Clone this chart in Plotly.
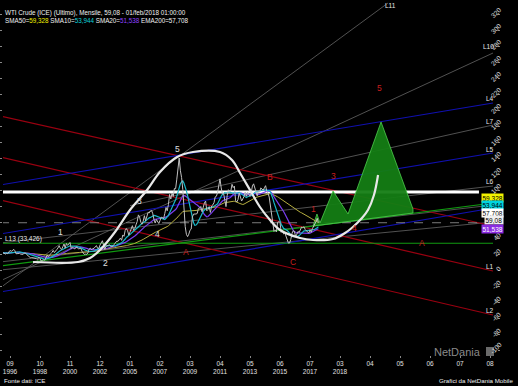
import plotly.graph_objects as go
import pandas as pd

W, H = 518, 386
ML, MR, MT, MB = 3, 21, 0, 31

# ---------------- data ----------------
START_MONTH = "1996-03"
BASE_MONTH = "1996-09"          # first x-axis label
closes = [
    21.5, 21.2, 19.8, 20.9, 20.4, 22.3, 24.4, 23.4, 23.8, 25.9,
    24.2, 20.3, 20.4, 19.9, 20.8, 19.8, 20.1, 19.6, 21.2, 21.1, 19.2, 17.6,
    17.2, 15.4, 15.6, 15.4, 15.2, 14.2, 14.2, 13.4, 16.1, 14.4, 11.2, 12.1,
    12.8, 12.3, 16.8, 18.7, 16.8, 19.3, 20.5, 22.1, 24.5, 21.8, 24.6, 25.6,
    27.6, 30.4, 26.9, 25.7, 29.0, 32.5, 27.4, 33.1, 30.8, 32.7, 34.4, 26.8,
    28.7, 27.4, 26.3, 28.5, 28.4, 26.3, 26.4, 27.2, 23.4, 21.2, 19.4, 19.8,
    19.5, 21.7, 26.3, 27.3, 25.3, 26.9, 27.0, 28.9, 30.5, 27.2, 26.9, 31.2,
    33.5, 36.6, 31.0, 25.8, 29.6, 30.2, 30.5, 31.6, 29.2, 29.1, 30.4, 32.5,
    33.1, 36.2, 35.8, 37.4, 39.9, 37.1, 43.8, 42.1, 49.6, 51.8, 49.1, 43.5,
    48.2, 52.0, 55.4, 49.7, 52.0, 56.5, 60.6, 68.9, 66.2, 59.8, 57.3, 61.0,
    67.9, 61.4, 66.6, 71.9, 71.3, 73.9, 74.4, 70.3, 62.9, 58.7, 63.1, 61.1,
    58.1, 61.8, 65.9, 65.7, 64.0, 70.7, 78.2, 74.0, 81.7, 94.5, 88.7, 96.0,
    91.8, 101.8, 101.6, 113.5, 127.4, 140.0, 124.1, 115.5, 100.6, 67.8, 54.4, 44.6,
    41.7, 44.8, 49.7, 51.1, 66.3, 69.9, 69.5, 70.0, 70.6, 77.0, 77.3, 79.4,
    72.9, 79.7, 83.8, 86.2, 74.0, 75.6, 79.0, 71.9, 80.0, 81.4, 84.1, 91.4,
    92.2, 97.0, 106.7, 113.9, 102.7, 95.4, 95.7, 88.8, 79.2, 93.2, 100.4, 98.8,
    98.5, 107.1, 103.0, 104.9, 86.5, 85.0, 88.1, 96.5, 92.2, 86.2, 88.9, 91.8,
    97.5, 92.1, 97.2, 93.5, 92.0, 96.6, 105.0, 107.7, 102.3, 96.4, 92.7, 98.4,
    97.5, 102.6, 101.6, 99.7, 102.7, 105.4, 98.2, 96.0, 91.2, 80.5, 66.2, 53.3,
    48.2, 49.8, 47.6, 59.6, 60.3, 59.5, 47.1, 49.2, 45.1, 46.6, 41.7, 37.0,
    33.6, 33.75, 38.3, 45.9, 49.1, 48.3, 41.6, 44.7, 48.2, 46.9, 49.4, 53.7,
    52.8, 54.0, 50.6, 49.3, 48.3, 46.0, 50.2, 47.2, 51.7, 54.4, 57.4, 60.4,
    64.7, 59.08,
]

x_tick_vals = [0, 25, 50, 75, 100, 125, 150, 175, 200, 225, 250, 275, 300, 325, 350, 375, 400]
x_tick_text = ["09<br>1996", "10<br>1998", "11<br>2000", "12<br>2002", "01<br>2005",
               "02<br>2007", "03<br>2009", "04<br>2011", "05<br>2013", "06<br>2015",
               "07<br>2017", "03<br>2018", "04", "05", "06", "07", "08"]
y_tick_vals = list(range(-100, 321, 20))

# drawn trend lines: (x0, v0, x1, v1) in month-index / price units
red_lines = [(-8.3, 192.5, 402.5, 55.0), (-8.3, 141.25, 402.5, -1.25), (-8.3, 87.5, 402.5, -56.25)]
blue_lines = [(-8.3, 106.25, 402.5, 208.75), (-8.3, 45.0, 402.5, 146.25), (-8.3, -27.5, 402.5, 77.5)]
green_lines = [(-8.3, 33.426, 402.5, 33.426), (-8.3, 5.0, 402.5, 83.75)]
gray_lines = [(-8.3, -22.5, 315.0, 333.75), (-8.3, -13.75, 402.5, 271.25),
              (100.0, 80.4, 402.5, 181.25), (-8.3, 33.75, 402.5, 105.0),
              (-8.3, 10.0, 402.5, 81.25), (-8.3, 0.0, 402.5, 60.0)]
white_level = (-8.3, 390.8, 97.5)
last_price = 59.08

wave_x = [19.2, 56.7, 66.7, 75, 87.5, 100, 114.2, 125, 139.2, 152.5, 175, 185, 191.7, 200,
          208.3, 216.7, 225, 241.7, 252.5, 269.2, 279.2, 285.8, 293.3, 298.3, 303.3, 306.7]
wave_v = [10, 10, 15, 25, 47.5, 75, 100, 122.5, 141.25, 147.5, 147.5, 137.5, 121.25, 100,
          78.75, 62.5, 50, 40, 37.5, 38.75, 46.25, 53.75, 65, 75, 93.75, 118.75]

proj_x = [252.5, 255.8, 258.3, 269.2, 281.7, 309.2, 335.8, 335.8, 252.5]
proj_v = [55, 70, 58.75, 98.75, 70, 185, 76.25, 71.25, 55]

white_labels = [("1", 41.7, 47.5), ("2", 79.2, 9), ("3", 108.3, 86), ("4", 122.5, 45), ("5", 139.2, 151)]
red_labels = [("B", 216.7, 116), ("A", 146.7, 22), ("A", 343.3, 34), ("C", 235.8, 10),
              ("1", 252.5, 76), ("3", 269.2, 117), ("4", 286.7, 52), ("5", 308.3, 227)]
end_labels = [("L11", 317, 331), ("L10", 398.5, 279), ("L4", 400, 215), ("L7", 400, 186),
              ("L5", 400, 151), ("L6", 400, 111), ("L1", 400, 4), ("L2", 400, -51)]
small_end_labels = [("L", 396, 91), ("L", 396, 79)]
price_boxes = [("59,328", 90.0, "#f2f200", "#000"), ("53,944", 81.25, "#00d4e0", "#000"),
               ("57,708", 71.25, "#ffffff", "#000"), ("59,08", 62.5, "#f0f0f0", "#000"),
               ("51,538", 51.25, "#8a2be2", "#fff")]

# ---------------- figure ----------------
months = pd.period_range(START_MONTH, periods=len(closes), freq="M")
base = pd.Period(BASE_MONTH, freq="M")
xi = [(m - base).n for m in months]
s = pd.Series(closes)
sma10 = s.rolling(10, min_periods=1).mean()
sma20 = s.rolling(20, min_periods=1).mean()
sma50 = s.rolling(50, min_periods=1).mean()

fig = go.Figure()

def seg(l, color, width=1.0, dash=None):
    fig.add_trace(go.Scatter(x=[l[0], l[2]], y=[l[1], l[3]], mode="lines",
                             line=dict(color=color, width=width, dash=dash),
                             hoverinfo="skip", showlegend=False))

for l in gray_lines:
    seg(l, "#5a5a5a", 0.9)
for l in red_lines:
    seg(l, "#9a0010", 1.2)
for l in blue_lines:
    seg(l, "#1010b0", 1.2)
for l in green_lines:
    seg(l, "#109a10", 1.2)
seg((white_level[0], white_level[2], white_level[1], white_level[2]), "#ffffff", 3)
seg((-8.3, last_price, 402.5, last_price), "#9a9a9a", 0.8, "dash")

fig.add_trace(go.Scatter(x=proj_x, y=proj_v, mode="lines", fill="toself",
                         fillcolor="rgba(20,125,20,0.95)", line=dict(color="#4ecf4e", width=0.8),
                         hoverinfo="skip", showlegend=False))

fig.add_trace(go.Scatter(x=xi, y=sma50, mode="lines", line=dict(color="#b8b040", width=1),
                         hoverinfo="skip", showlegend=False))
fig.add_trace(go.Scatter(x=xi, y=sma20, mode="lines", line=dict(color="#7a3cf0", width=1.2),
                         hoverinfo="skip", showlegend=False))
fig.add_trace(go.Scatter(x=xi, y=sma10, mode="lines", line=dict(color="#18b8c8", width=1.2),
                         hoverinfo="skip", showlegend=False))
fig.add_trace(go.Scatter(x=xi, y=closes, mode="lines", line=dict(color="#c0c0c0", width=1),
                         hoverinfo="skip", showlegend=False))

fig.add_trace(go.Scatter(x=wave_x, y=wave_v, mode="lines", line=dict(color="#e8e8e8", width=2.2, shape="spline"),
                         hoverinfo="skip", showlegend=False))

FONT = "Liberation Sans, Arial, sans-serif"
PW = W - ML - MR
PH = H - MT - MB
def px(x, y):
    return (x - ML) / PW, 1 - (y - MT) / PH

ann = []
for t, x, y in white_labels:
    ann.append(dict(x=x, y=y, text=t, showarrow=False, font=dict(color="#e0e0e0", size=8.5, family=FONT)))
for t, x, y in red_labels:
    ann.append(dict(x=x, y=y, text=t, showarrow=False, font=dict(color="#c81e1e", size=8.5, family=FONT)))
for t, x, y in end_labels:
    ann.append(dict(x=x, y=y, text=t, showarrow=False, xanchor="center",
                    font=dict(color="#e8e8e8", size=6.5, family=FONT)))
for t, x, y in small_end_labels:
    ann.append(dict(x=x, y=y, text=t, showarrow=False, xanchor="center", borderpad=0,
                    font=dict(color="#e8e8e8", size=5.5, family=FONT)))
ann.append(dict(x=-5.5, y=39, text="L13 (33,426)", showarrow=False, xanchor="left",
                font=dict(color="#e8e8e8", size=6.5, family=FONT)))

# y-axis tick labels (rotated, right side)
lab_x, _ = px(505, 0)
for v in y_tick_vals:
    ann.append(dict(xref="paper", yref="y", x=lab_x, y=v, yshift=2, text=str(v), textangle=-45,
                    showarrow=False, font=dict(color="#e0e0e0", size=6.5, family=FONT)))

box_x, _ = px(504, 0)
for t, y, bg, fg in price_boxes:
    ann.append(dict(xref="paper", yref="y", x=box_x, y=y, text=t, showarrow=False, bgcolor=bg, borderpad=0.5,
                    font=dict(color=fg, size=6.5, family=FONT)))

tx, ty = px(3, 13)
ann.append(dict(xref="paper", yref="paper", x=tx, y=ty, xanchor="left", yanchor="middle", showarrow=False,
                text="WTI Crude (ICE) (Ultimo), Mensile, 59,08 - 01/feb/2018 01:00:00",
                font=dict(color="#f0f0f0", size=6.3, family=FONT)))
tx, ty = px(3, 20)
ann.append(dict(xref="paper", yref="paper", x=tx, y=ty, xanchor="left", yanchor="middle", showarrow=False,
                text="SMA50=<span style='color:#f0f000'>59,328</span> SMA10=<span style='color:#10d0dc'>53,944</span> "
                     "SMA20=<span style='color:#9040ff'>51,538</span> EMA200=57,708",
                font=dict(color="#f0f0f0", size=6.3, family=FONT)))
tx, ty = px(2, 381)
ann.append(dict(xref="paper", yref="paper", x=tx, y=ty, xanchor="left", yanchor="middle", showarrow=False,
                text="Fonte dati: ICE", font=dict(color="#f0f0f0", size=6.2, family=FONT)))
tx, ty = px(515, 381)
ann.append(dict(xref="paper", yref="paper", x=tx, y=ty, xanchor="right", yanchor="middle", showarrow=False,
                text="Grafici da NetDania Mobile", font=dict(color="#f0f0f0", size=6.2, family=FONT)))
tx, ty = px(483, 352)
ann.append(dict(xref="paper", yref="paper", x=tx, y=ty, xanchor="right", yanchor="middle", showarrow=False,
                text="NetDania", font=dict(color="#8a8a8a", size=11, family=FONT)))

x0, y0 = px(486, 347)
x1, y1 = px(494, 356)
shapes = [dict(type="rect", xref="paper", yref="paper", x0=x0, y0=y1, x1=x1, y1=y0,
               fillcolor="#6a6a6a", line=dict(width=0))]

fig.update_layout(
    width=W, height=H, margin=dict(l=ML, r=MR, t=MT, b=MB),
    paper_bgcolor="#000000", plot_bgcolor="#000000",
    showlegend=False, annotations=ann, shapes=shapes,
    xaxis=dict(range=[(3 - 10) / 1.2, (497 - 10) / 1.2], tickmode="array", tickvals=x_tick_vals,
               ticktext=x_tick_text, showgrid=False, zeroline=False, showline=False,
               ticks="outside", ticklen=2, tickcolor="#888", tickangle=0, automargin=False,
               tickfont=dict(color="#e0e0e0", size=6.5, family=FONT)),
    yaxis=dict(range=[-106.25, 337.5], side="right", tickmode="array", tickvals=y_tick_vals,
               showgrid=False, zeroline=False, showline=False, ticks="outside", ticklen=2,
               tickcolor="#888", mirror="ticks", showticklabels=False, automargin=False),
)

fig.write_html("out.html", config={"displayModeBar": False},
               post_script="document.body.style.margin='0';document.body.style.background='#000';")
